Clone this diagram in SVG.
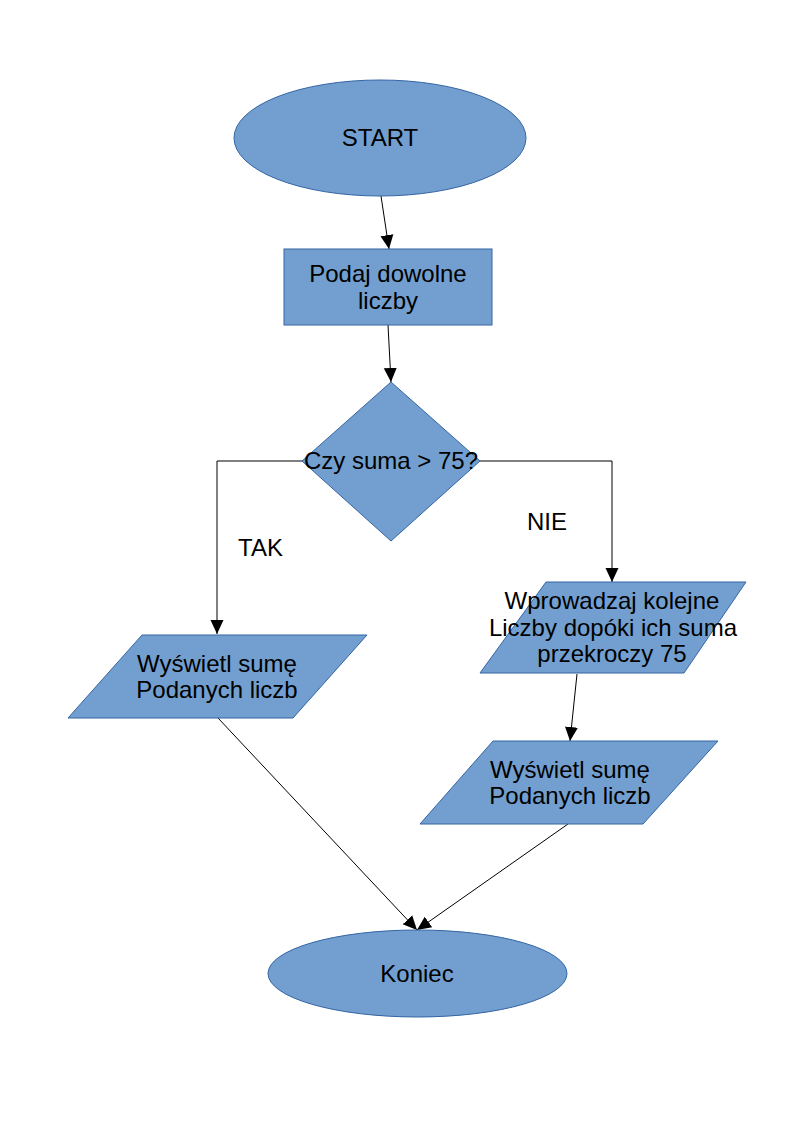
<svg xmlns="http://www.w3.org/2000/svg" width="794" height="1123" viewBox="0 0 794 1123">
<defs>
<style>
.shape{fill:#729fcf;stroke:#3465a4;stroke-width:1}
.t{font-family:"Liberation Sans",Arial,sans-serif;font-size:24px;fill:#000;text-anchor:middle}
.lbl{font-family:"Liberation Sans",Arial,sans-serif;font-size:24px;fill:#000}
.c{fill:none;stroke:#000;stroke-width:1}
</style>
<marker id="arr" markerUnits="userSpaceOnUse" markerWidth="14" markerHeight="16" refX="14" refY="6.5" orient="auto" viewBox="0 0 14 13">
<path d="M0,0 L14,6.5 L0,13 Z" fill="#000"/>
</marker>
</defs>
<rect width="794" height="1123" fill="#fff"/>
<g id="connectors">
<line class="c" x1="381" y1="196" x2="389" y2="249" marker-end="url(#arr)"/>
<line class="c" x1="388" y1="325" x2="391" y2="382" marker-end="url(#arr)"/>
<polyline class="c" points="303,461 217,461 217,634" marker-end="url(#arr)"/>
<polyline class="c" points="480,461 612,461 612,582" marker-end="url(#arr)"/>
<line class="c" x1="577" y1="674" x2="570" y2="741" marker-end="url(#arr)"/>
<line class="c" x1="218" y1="718" x2="417" y2="930" marker-end="url(#arr)"/>
<line class="c" x1="568" y1="824" x2="417" y2="930" marker-end="url(#arr)"/>
</g>
<g id="start">
<ellipse class="shape" cx="380" cy="138" rx="146" ry="58"/>
<text class="t" x="380" y="146">START</text>
</g>
<g id="podaj">
<rect class="shape" x="284" y="249" width="208" height="76"/>
<text class="t" x="388" y="282">Podaj dowolne</text>
<text class="t" x="388" y="309">liczby</text>
</g>
<g id="decision">
<polygon class="shape" points="391,382 480,461 391,541 302,461"/>
<text class="t" x="391" y="469">Czy suma &gt; 75?</text>
</g>
<g id="labels">
<text class="lbl" x="238" y="556">TAK</text>
<text class="lbl" x="527" y="530">NIE</text>
</g>
<g id="show-left">
<polygon class="shape" points="142,635 367,635 293,718 68,718"/>
<text class="t" x="217" y="672">Wyświetl sumę</text>
<text class="t" x="217" y="698">Podanych liczb</text>
</g>
<g id="input-right">
<polygon class="shape" points="546,582 746,582 684,673 480,673"/>
<text class="t" x="612" y="609">Wprowadzaj kolejne</text>
<text class="t" x="613" y="636">Liczby dopóki ich suma</text>
<text class="t" x="612" y="662">przekroczy 75</text>
</g>
<g id="show-right">
<polygon class="shape" points="493,741 718,741 643,824 420,824"/>
<text class="t" x="570" y="778">Wyświetl sumę</text>
<text class="t" x="570" y="804">Podanych liczb</text>
</g>
<g id="end">
<ellipse class="shape" cx="417.5" cy="973.5" rx="149.5" ry="43.5"/>
<text class="t" x="417" y="982">Koniec</text>
</g>
</svg>
